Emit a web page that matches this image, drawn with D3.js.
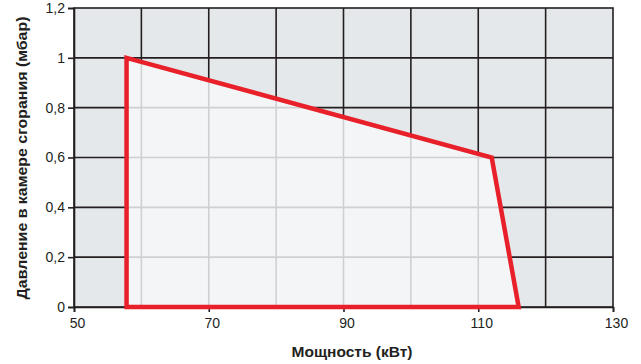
<!DOCTYPE html>
<html><head><meta charset="utf-8">
<script src="https://cdn.jsdelivr.net/npm/d3@7/dist/d3.min.js"></script>
<style>body{margin:0;background:#fff}svg{display:block}</style>
</head><body>
<script>
const xTicks = [50, 70, 90, 110, 130];
const xGrid = [60, 70, 80, 90, 100, 110, 120];
const yTicks = [0, 0.2, 0.4, 0.6, 0.8, 1, 1.2];
const yTickLabels = ["0", "0,2", "0,4", "0,6", "0,8", "1", "1,2"];
const powerKW = [57.8, 57.8, 112, 116];
const pressureMbar = [0, 1.0, 0.6, 0];
const xTitle = "Мощность (кВт)";
const yTitle = "Давление в камере сгорания (мбар)";

const W = 641, H = 364;
const m = {l: 74, r: 28, t: 8, b: 57};
const svg = d3.select("body").append("svg").attr("width", W).attr("height", H);
const x = d3.scaleLinear().domain([50, 130]).range([m.l, W - m.r]);
const y = d3.scaleLinear().domain([0, 1.2]).range([H - m.b, m.t]);
const font = "'Liberation Sans', Arial, sans-serif";
const ink = "#231f20";

svg.append("rect").attr("x", x(50)).attr("y", y(1.2)).attr("width", x(130) - x(50)).attr("height", y(0) - y(1.2)).attr("fill", "#e5e8eb");

const g = svg.append("g");
function grid(sel, color, w) {
  sel.selectAll(null).data(xGrid).join("line")
    .attr("x1", d => x(d)).attr("x2", d => x(d)).attr("y1", y(0)).attr("y2", y(1.2))
    .attr("stroke", color).attr("stroke-width", w);
  sel.selectAll(null).data(yTicks.slice(1, -1)).join("line")
    .attr("x1", x(50)).attr("x2", x(130)).attr("y1", d => y(d)).attr("y2", d => y(d))
    .attr("stroke", color).attr("stroke-width", w);
}
grid(g.append("g"), ink, 1.6);

const pts = powerKW.map((p, i) => [x(p), y(pressureMbar[i])]);
svg.append("clipPath").attr("id", "poly").append("polygon").attr("points", pts.map(p => p.join(",")).join(" "));
svg.append("polygon").attr("points", pts.map(p => p.join(",")).join(" ")).attr("fill", "#f4f5f7");
grid(svg.append("g").attr("clip-path", "url(#poly)"), "#cfd0d2", 1.6);

// border
svg.append("rect").attr("x", x(50)).attr("y", y(1.2)).attr("width", x(130) - x(50)).attr("height", y(0) - y(1.2))
  .attr("fill", "none").attr("stroke", ink).attr("stroke-width", 1.6);

// axes
const xa = svg.append("g").attr("transform", `translate(0,${y(0)})`)
  .call(d3.axisBottom(x).tickValues(xTicks).tickSize(5).tickPadding(6).tickFormat(d3.format("d")));
const ya = svg.append("g").attr("transform", `translate(${x(50)},0)`)
  .call(d3.axisLeft(y).tickValues(yTicks).tickSize(6).tickPadding(3).tickFormat((d, i) => yTickLabels[i]));
[xa, ya].forEach(a => {
  a.select(".domain").attr("stroke", ink).attr("stroke-width", 1.6);
  a.selectAll(".tick line").attr("stroke", ink).attr("stroke-width", 1.6);
  a.selectAll("text").attr("fill", ink).attr("font-family", font).attr("font-size", 14);
});
xa.selectAll("text").attr("dx", 3);

svg.append("polygon").attr("points", pts.map(p => p.join(",")).join(" "))
  .attr("fill", "none").attr("stroke", "#e8202a").attr("stroke-width", 4.5).attr("stroke-linejoin", "miter");

svg.append("text").attr("x", 352).attr("y", 357).attr("text-anchor", "middle")
  .attr("font-family", font).attr("font-weight", "bold").attr("font-size", 14.5).attr("fill", ink)
  .attr("textLength", 121).attr("lengthAdjust", "spacingAndGlyphs").text(xTitle);
svg.append("text").attr("transform", "translate(27,158) rotate(-90)").attr("text-anchor", "middle")
  .attr("font-family", font).attr("font-weight", "bold").attr("font-size", 14.5).attr("fill", ink)
  .attr("textLength", 283).attr("lengthAdjust", "spacingAndGlyphs").text(yTitle);
</script>
</body></html>
